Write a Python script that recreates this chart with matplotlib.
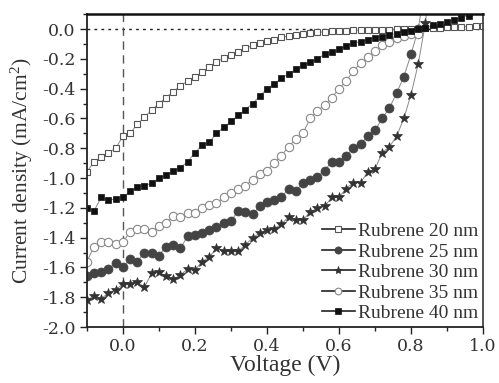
import numpy as np
import matplotlib
matplotlib.use("Agg")
import matplotlib.pyplot as plt
from matplotlib.ticker import MultipleLocator, FormatStrFormatter

plt.rcParams['font.family'] = ['Liberation Serif', 'DejaVu Serif']
plt.rcParams['axes.unicode_minus'] = False
plt.rcParams['mathtext.fontset'] = 'custom'
plt.rcParams['mathtext.rm'] = 'Liberation Serif'
plt.rcParams['mathtext.it'] = 'Liberation Serif:italic'

# tensão (V), passo de 0.02
v_20 = [-0.10, -0.08, -0.06, -0.04, -0.02, 0.00, 0.02, 0.04, 0.06, 0.08,
        0.10, 0.12, 0.14, 0.16, 0.18, 0.20, 0.22, 0.24, 0.26, 0.28,
        0.30, 0.32, 0.34, 0.36, 0.38, 0.40, 0.42, 0.44, 0.46, 0.48,
        0.50, 0.52, 0.54, 0.56, 0.58, 0.60, 0.62, 0.64, 0.66, 0.68,
        0.70, 0.72, 0.74, 0.76, 0.78, 0.80, 0.82, 0.84, 0.86, 0.88,
        0.90, 0.92, 0.94, 0.96, 0.98, 1.00]
j_20 = [-0.96, -0.89, -0.86, -0.83, -0.80, -0.72, -0.70, -0.64, -0.59, -0.545,
        -0.50, -0.46, -0.42, -0.38, -0.35, -0.32, -0.29, -0.255, -0.22, -0.195,
        -0.175, -0.155, -0.13, -0.11, -0.095, -0.08, -0.07, -0.055, -0.047, -0.04,
        -0.034, -0.027, -0.022, -0.018, -0.015, -0.012, -0.010, -0.008, -0.007, -0.006,
        -0.005, -0.004, -0.003, -0.002, -0.001, 0.000, 0.002, 0.004, 0.006, 0.008,
        0.011, 0.013, 0.015, 0.017, 0.019, 0.020]

v_25 = [-0.10, -0.08, -0.06, -0.04, -0.02, 0.00, 0.02, 0.04, 0.06, 0.08,
        0.10, 0.12, 0.14, 0.16, 0.18, 0.20, 0.22, 0.24, 0.26, 0.28,
        0.30, 0.32, 0.34, 0.36, 0.38, 0.40, 0.42, 0.44, 0.46, 0.48,
        0.50, 0.52, 0.54, 0.56, 0.58, 0.60, 0.62, 0.64, 0.66, 0.68,
        0.70, 0.72, 0.74, 0.76, 0.78, 0.80, 0.82, 0.84]
j_25 = [-1.66, -1.64, -1.63, -1.61, -1.57, -1.60, -1.54, -1.56, -1.50, -1.50,
        -1.52, -1.46, -1.45, -1.47, -1.39, -1.38, -1.37, -1.35, -1.33, -1.30,
        -1.29, -1.22, -1.23, -1.24, -1.19, -1.16, -1.15, -1.13, -1.07, -1.09,
        -1.03, -1.01, -0.99, -0.95, -0.89, -0.89, -0.85, -0.80, -0.77, -0.72,
        -0.68, -0.60, -0.53, -0.43, -0.32, -0.17, 0.00, 0.30]

v_30 = [-0.10, -0.08, -0.06, -0.04, -0.02, 0.00, 0.02, 0.04, 0.06, 0.08,
        0.10, 0.12, 0.14, 0.16, 0.18, 0.20, 0.22, 0.24, 0.26, 0.28,
        0.30, 0.32, 0.34, 0.36, 0.38, 0.40, 0.42, 0.44, 0.46, 0.48,
        0.50, 0.52, 0.54, 0.56, 0.58, 0.60, 0.62, 0.64, 0.66, 0.68,
        0.70, 0.72, 0.74, 0.76, 0.78, 0.80, 0.82, 0.84, 0.86]
j_30 = [-1.82, -1.79, -1.81, -1.77, -1.75, -1.71, -1.71, -1.70, -1.73, -1.64,
        -1.63, -1.66, -1.68, -1.65, -1.61, -1.62, -1.56, -1.53, -1.47, -1.49,
        -1.49, -1.49, -1.45, -1.40, -1.37, -1.35, -1.34, -1.31, -1.26, -1.28,
        -1.28, -1.23, -1.20, -1.19, -1.13, -1.13, -1.07, -1.03, -1.03, -0.96,
        -0.94, -0.83, -0.79, -0.72, -0.60, -0.44, -0.235, 0.04, 0.50]

v_35 = [-0.10, -0.08, -0.06, -0.04, -0.02, 0.00, 0.02, 0.04, 0.06, 0.08,
        0.10, 0.12, 0.14, 0.16, 0.18, 0.20, 0.22, 0.24, 0.26, 0.28,
        0.30, 0.32, 0.34, 0.36, 0.38, 0.40, 0.42, 0.44, 0.46, 0.48,
        0.50, 0.52, 0.54, 0.56, 0.58, 0.60, 0.62, 0.64, 0.66, 0.68,
        0.70, 0.72, 0.74, 0.76, 0.78, 0.80, 0.82]
j_35 = [-1.56, -1.46, -1.43, -1.43, -1.44, -1.43, -1.36, -1.34, -1.34, -1.36,
        -1.32, -1.30, -1.255, -1.26, -1.235, -1.235, -1.20, -1.18, -1.17, -1.13,
        -1.10, -1.07, -1.05, -1.01, -0.97, -0.95, -0.90, -0.85, -0.79, -0.74,
        -0.70, -0.60, -0.55, -0.51, -0.46, -0.40, -0.35, -0.28, -0.23, -0.19,
        -0.15, -0.11, -0.085, -0.06, -0.045, -0.035, -0.03]

v_40 = [-0.10, -0.08, -0.06, -0.04, -0.02, 0.00, 0.02, 0.04, 0.06, 0.08,
        0.10, 0.12, 0.14, 0.16, 0.18, 0.20, 0.22, 0.24, 0.26, 0.28,
        0.30, 0.32, 0.34, 0.36, 0.38, 0.40, 0.42, 0.44, 0.46, 0.48,
        0.50, 0.52, 0.54, 0.56, 0.58, 0.60, 0.62, 0.64, 0.66, 0.68,
        0.70, 0.72, 0.74, 0.76, 0.78, 0.80, 0.82, 0.84, 0.86, 0.88,
        0.90, 0.92, 0.94, 0.96]
j_40 = [-1.20, -1.22, -1.13, -1.15, -1.14, -1.13, -1.09, -1.06, -1.05, -1.035,
        -1.00, -0.98, -0.95, -0.93, -0.89, -0.83, -0.78, -0.76, -0.70, -0.66,
        -0.62, -0.58, -0.54, -0.50, -0.45, -0.40, -0.37, -0.33, -0.30, -0.27,
        -0.24, -0.22, -0.20, -0.17, -0.155, -0.135, -0.115, -0.095, -0.085, -0.07,
        -0.06, -0.05, -0.04, -0.03, -0.02, -0.01, 0.00, 0.01, 0.025, 0.035,
        0.05, 0.06, 0.075, 0.09]

labels = ["Rubrene 20 nm", "Rubrene 25 nm", "Rubrene 30 nm",
          "Rubrene 35 nm", "Rubrene 40 nm"]

xticks = [0.0, 0.2, 0.4, 0.6, 0.8, 1.0]
yticks = [-2.0, -1.8, -1.6, -1.4, -1.2, -1.0, -0.8, -0.6, -0.4, -0.2, 0.0]

fig = plt.figure(figsize=(4.99, 3.83), dpi=100)
ax = fig.add_axes([0.174, 0.146, 0.794, 0.817])

line_c = "#8a8a8a"
ax.axhline(0, color="#222222", lw=1.0, ls=(0, (2, 3)), zorder=1)
ax.axvline(0, color="#555555", lw=1.0, ls=(0, (6, 4)), zorder=1)

series = [
    (v_20, j_20, dict(marker="s", ms=5, mfc="white", mec="#555555", mew=0.8)),
    (v_25, j_25, dict(marker="o", ms=6.5, mfc="#444444", mec="#444444", mew=0.5)),
    (v_30, j_30, dict(marker="*", ms=7.5, mfc="#333333", mec="#333333", mew=0.5)),
    (v_35, j_35, dict(marker="o", ms=6, mfc="white", mec="#888888", mew=0.8)),
    (v_40, j_40, dict(marker="s", ms=5, mfc="#111111", mec="#111111", mew=0.5)),
]
for (v, j, st), lab in zip(series, labels):
    ax.plot(v, j, color=line_c, lw=0.7, zorder=2, **st)
    # entrada da legenda: linha preta com marcador pequeno
    leg_st = dict(st)
    leg_st["ms"] = st["ms"] * 0.8
    ax.plot([], [], color="#222222", lw=1.2, label=lab, **leg_st)

ax.set_xlim(-0.1, 1.0)
ax.set_ylim(-2.0, 0.1)
ax.xaxis.set_minor_locator(MultipleLocator(0.1))
ax.yaxis.set_minor_locator(MultipleLocator(0.1))
ax.set_xticks(xticks)
ax.set_yticks(yticks)
ax.xaxis.set_major_formatter(FormatStrFormatter("%.1f"))
ax.yaxis.set_major_formatter(FormatStrFormatter("%.1f"))
ax.tick_params(which="both", direction="out", top=False, right=False,
               colors="#222222", labelcolor="#333333")
ax.tick_params(which="major", length=5, width=1.0, pad=3)
ax.tick_params(which="minor", length=3, width=1.0)
for t in ax.get_xticklabels() + ax.get_yticklabels():
    t.set_fontfamily("DejaVu Serif")
    t.set_fontsize(12.5)

for s in ["left", "bottom"]:
    ax.spines[s].set_linewidth(1.3)
    ax.spines[s].set_color("#222222")
ax.spines["top"].set_linewidth(1.8)
ax.spines["top"].set_color("#111111")
ax.spines["right"].set_linewidth(1.3)
ax.spines["right"].set_color("#444444")

ax.set_xlabel("Voltage (V)", fontsize=17, color="#333333", labelpad=0)
ax.set_ylabel("Current density (mA/cm$^2$)", fontsize=15.5, color="#333333", labelpad=5)

ax.legend(loc="lower right", frameon=False, fontsize=14, handlelength=1.7,
          handletextpad=0.15, labelspacing=0.15, borderaxespad=0.1,
          borderpad=0.15, labelcolor="#333333")

fig.savefig("out.png", dpi=100)
